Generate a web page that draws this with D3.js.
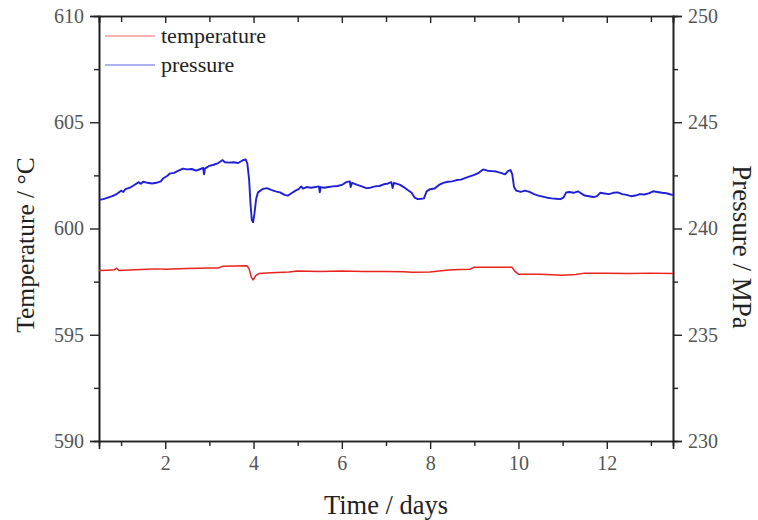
<!DOCTYPE html>
<html>
<head>
<meta charset="utf-8">
<script src="https://cdn.jsdelivr.net/npm/d3@7"></script>
<style>
  body { margin: 0; background: #fff; }
  text { font-family: "Liberation Serif", "Times New Roman", serif; }
</style>
</head>
<body>
<div id="chart"></div>
<script>
// time in days, temperature in °C, pressure in MPa
const xTicks = [2, 4, 6, 8, 10, 12];
const tempTicks = [590, 595, 600, 605, 610];
const pressTicks = [230, 235, 240, 245, 250];
const seriesNames = ["temperature", "pressure"];

const temperature = [
  [0.50, 598.02], [0.70, 598.04], [0.85, 598.06], [0.90, 598.13], [0.95, 598.02],
  [1.20, 598.05], [1.60, 598.08], [1.80, 598.10], [2.00, 598.08], [2.50, 598.12],
  [3.00, 598.14], [3.20, 598.14], [3.30, 598.22], [3.60, 598.24], [3.85, 598.25],
  [3.90, 598.10], [3.95, 597.70], [3.99, 597.58], [4.05, 597.78], [4.12, 597.88],
  [4.40, 597.92], [4.80, 597.95], [5.00, 598.00], [5.50, 597.98], [6.00, 598.00],
  [6.50, 597.98], [7.00, 597.98], [7.40, 597.96], [7.60, 597.94], [8.00, 597.95],
  [8.20, 598.00], [8.50, 598.06], [8.90, 598.08], [9.00, 598.18], [9.50, 598.18],
  [9.85, 598.18], [9.92, 597.98], [10.00, 597.85], [10.50, 597.85], [11.00, 597.80],
  [11.30, 597.84], [11.50, 597.90], [12.00, 597.90], [12.50, 597.88], [13.00, 597.90],
  [13.50, 597.88]
];

const pressure = [
  [0.50, 241.35], [0.60, 241.38], [0.70, 241.45], [0.80, 241.52], [0.90, 241.62],
  [1.00, 241.78], [1.05, 241.72], [1.10, 241.85], [1.20, 241.92], [1.30, 242.05],
  [1.40, 242.18], [1.45, 242.10], [1.50, 242.20], [1.60, 242.15], [1.70, 242.12],
  [1.80, 242.15], [1.90, 242.22], [1.95, 242.35], [2.05, 242.48], [2.10, 242.58],
  [2.20, 242.62], [2.30, 242.72], [2.40, 242.82], [2.50, 242.78], [2.60, 242.80],
  [2.70, 242.72], [2.80, 242.80], [2.86, 242.85], [2.88, 242.55], [2.90, 242.82],
  [3.00, 242.95], [3.10, 243.00], [3.20, 243.08], [3.30, 243.22], [3.35, 243.12],
  [3.45, 243.10], [3.55, 243.12], [3.65, 243.08], [3.75, 243.20], [3.82, 243.25],
  [3.86, 243.05], [3.90, 242.30], [3.93, 241.20], [3.96, 240.40], [3.99, 240.30],
  [4.02, 240.70], [4.06, 241.40], [4.10, 241.70], [4.20, 241.85], [4.30, 241.90],
  [4.40, 241.82], [4.50, 241.75], [4.60, 241.70], [4.70, 241.58], [4.78, 241.55],
  [4.85, 241.65], [4.95, 241.78], [5.02, 241.85], [5.08, 241.98], [5.12, 241.88],
  [5.20, 241.95], [5.30, 241.92], [5.40, 241.95], [5.48, 241.98], [5.50, 241.70],
  [5.52, 241.95], [5.60, 241.92], [5.70, 241.95], [5.80, 241.98], [5.90, 242.00],
  [6.00, 242.05], [6.10, 242.18], [6.18, 242.22], [6.20, 241.95], [6.23, 242.15],
  [6.35, 242.05], [6.45, 241.98], [6.55, 241.90], [6.65, 241.92], [6.75, 241.98],
  [6.85, 242.00], [6.95, 242.08], [7.05, 242.12], [7.12, 242.18], [7.15, 241.90],
  [7.18, 242.15], [7.25, 242.10], [7.32, 242.05], [7.40, 241.95], [7.50, 241.80],
  [7.58, 241.68], [7.65, 241.45], [7.72, 241.38], [7.80, 241.40], [7.86, 241.42],
  [7.92, 241.75], [8.00, 241.85], [8.10, 241.88], [8.20, 242.05], [8.30, 242.15],
  [8.40, 242.20], [8.50, 242.22], [8.60, 242.28], [8.70, 242.30], [8.80, 242.38],
  [8.90, 242.45], [9.00, 242.52], [9.10, 242.62], [9.20, 242.78], [9.30, 242.72],
  [9.40, 242.70], [9.50, 242.68], [9.60, 242.62], [9.70, 242.55], [9.76, 242.70],
  [9.82, 242.75], [9.86, 242.55], [9.90, 241.95], [9.95, 241.78], [10.05, 241.72],
  [10.15, 241.78], [10.25, 241.72], [10.35, 241.62], [10.45, 241.55], [10.55, 241.50],
  [10.65, 241.45], [10.75, 241.42], [10.85, 241.40], [10.95, 241.38], [11.02, 241.45],
  [11.08, 241.70], [11.15, 241.72], [11.25, 241.68], [11.35, 241.75], [11.42, 241.65],
  [11.50, 241.55], [11.60, 241.52], [11.70, 241.48], [11.78, 241.52], [11.85, 241.68],
  [11.95, 241.65], [12.05, 241.62], [12.15, 241.68], [12.25, 241.70], [12.35, 241.62],
  [12.45, 241.58], [12.55, 241.52], [12.65, 241.55], [12.75, 241.62], [12.85, 241.60],
  [12.95, 241.65], [13.05, 241.75], [13.15, 241.72], [13.25, 241.68], [13.35, 241.66],
  [13.45, 241.60], [13.50, 241.58]
];

const width = 758, height = 520;
const margin = {top: 16, right: 85, bottom: 79, left: 99};
const innerW = width - margin.left - margin.right;
const innerH = height - margin.top - margin.bottom;
const axisColor = "#222";
const labelColor = "#555";
const serif = "'Liberation Serif', 'Times New Roman', serif";
const tempColor = "#e8231f";
const pressColor = "#1f1fd8";

const svg = d3.select("#chart").append("svg")
  .attr("width", width)
  .attr("height", height);

const g = svg.append("g")
  .attr("transform", `translate(${margin.left},${margin.top})`);

const x = d3.scaleLinear().domain([0.5, 13.5]).range([0, innerW]);
const yT = d3.scaleLinear().domain([590, 610]).range([innerH, 0]);
const yP = d3.scaleLinear().domain([230, 250]).range([innerH, 0]);

// minor ticks
const xMinor = d3.range(1, 14, 2);
const tMinor = [592.5, 597.5, 602.5, 607.5];
const pMinor = [232.5, 237.5, 242.5, 247.5];

function styleAxis(sel) {
  sel.attr("font-family", serif).attr("font-size", 20);
  sel.select(".domain").attr("stroke", axisColor).attr("stroke-width", 1.6);
  sel.selectAll(".tick line").attr("stroke", axisColor).attr("stroke-width", 1.4);
  sel.selectAll(".tick text").attr("fill", labelColor);
}

// bottom
g.append("g").attr("transform", `translate(0,${innerH})`)
  .call(d3.axisBottom(x).tickValues(xMinor).tickSize(5).tickFormat(""))
  .call(styleAxis);
g.append("g").attr("transform", `translate(0,${innerH})`)
  .call(d3.axisBottom(x).tickValues(xTicks).tickSize(8).tickPadding(7).tickFormat(d3.format("d")))
  .call(styleAxis);

// top (ticks inward)
g.append("g")
  .call(d3.axisBottom(x).tickValues(xMinor).tickSize(6).tickFormat(""))
  .call(styleAxis);
g.append("g")
  .call(d3.axisBottom(x).tickValues(xTicks).tickSize(7).tickFormat(""))
  .call(styleAxis);

// left
g.append("g")
  .call(d3.axisLeft(yT).tickValues(tMinor).tickSize(5).tickFormat(""))
  .call(styleAxis);
g.append("g")
  .call(d3.axisLeft(yT).tickValues(tempTicks).tickSize(9).tickPadding(6).tickFormat(d3.format("d")))
  .call(styleAxis);

// right
g.append("g").attr("transform", `translate(${innerW},0)`)
  .call(d3.axisRight(yP).tickValues(pMinor).tickSize(5).tickFormat(""))
  .call(styleAxis);
g.append("g").attr("transform", `translate(${innerW},0)`)
  .call(d3.axisRight(yP).tickValues(pressTicks).tickSize(9).tickPadding(6).tickFormat(d3.format("d")))
  .call(styleAxis);

// lines
const tempLine = d3.line().x(d => x(d[0])).y(d => yT(d[1]));
const pressLine = d3.line().x(d => x(d[0])).y(d => yP(d[1]));

g.append("path")
  .datum(temperature)
  .attr("d", tempLine)
  .attr("fill", "none")
  .attr("stroke", tempColor)
  .attr("stroke-width", 1.5)
  .attr("stroke-linejoin", "round");

g.append("path")
  .datum(pressure)
  .attr("d", pressLine)
  .attr("fill", "none")
  .attr("stroke", pressColor)
  .attr("stroke-width", 1.9)
  .attr("stroke-linejoin", "round");

// legend
const legend = g.append("g").attr("transform", "translate(6,20)");
const legColors = [tempColor, pressColor];
seriesNames.forEach((name, i) => {
  const row = legend.append("g").attr("transform", `translate(0,${i * 29})`);
  row.append("line")
    .attr("x1", 0).attr("x2", 50)
    .attr("stroke", legColors[i])
    .attr("stroke-opacity", 0.7)
    .attr("stroke-width", 1.2);
  row.append("text")
    .attr("x", 56)
    .attr("dy", "0.32em")
    .attr("fill", "#222")
    .style("font-size", "22px")
    .text(name);
});

// axis titles
svg.append("text")
  .attr("x", margin.left + innerW / 2)
  .attr("y", 514)
  .attr("text-anchor", "middle")
  .attr("fill", "#222")
  .style("font-size", "26.5px")
  .text("Time / days");

svg.append("text")
  .attr("transform", `translate(34,245) rotate(-90)`)
  .attr("text-anchor", "middle")
  .attr("fill", "#222")
  .style("font-size", "25.5px")
  .text("Temperature / °C");

svg.append("text")
  .attr("transform", `translate(733,247) rotate(90)`)
  .attr("text-anchor", "middle")
  .attr("fill", "#222")
  .style("font-size", "27px")
  .text("Pressure / MPa");
</script>
</body>
</html>
